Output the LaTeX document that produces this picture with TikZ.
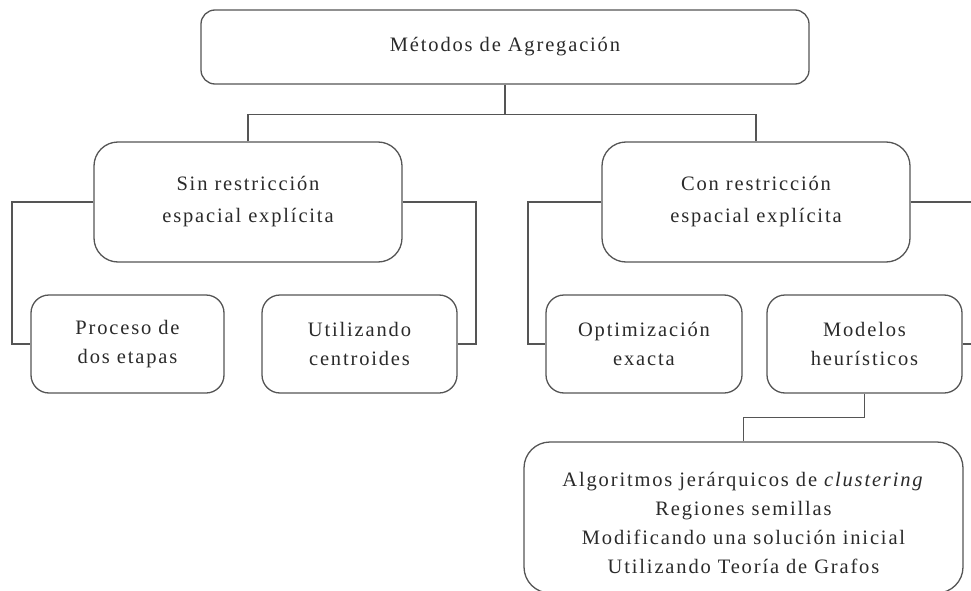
\documentclass[tikz,border=0pt]{standalone}
\usepackage{fontspec}
\setmainfont{Liberation Serif}[LetterSpace=9]
\definecolor{edge}{HTML}{555555}
\definecolor{ink}{HTML}{2A2A2A}
\begin{document}
\begin{tikzpicture}[x=1pt,y=-1pt,
  boxbase/.style={draw=edge,line width=1.3pt,fill=white,text=ink,align=center,inner sep=0pt,
    font=\fontsize{20.5}{29}\selectfont},
  topbox/.style={boxbase,rounded corners=14pt,minimum width=608pt,minimum height=74pt},
  midbox/.style={boxbase,rounded corners=24pt,minimum width=308pt,minimum height=120pt,
    font=\fontsize{20.5}{32}\selectfont},
  leafbox/.style={boxbase,rounded corners=18pt,minimum width=195pt,minimum height=98pt},
  bigbox/.style={boxbase,rounded corners=26pt,minimum width=439pt,minimum height=151pt,
    font=\fontsize{20.5}{29}\selectfont},
  link/.style={draw=edge,line width=1.3pt}]
\useasboundingbox (0,0) rectangle (971,591);
\fill[white] (0,0) rectangle (971,591);

\node[topbox] (top) at (505,47) {\raisebox{-3pt}{Métodos de Agregación}};
\node[midbox] (sin) at (248,202) {Sin restricción\\espacial explícita};
\node[midbox] (con) at (756,202) {Con restricción\\espacial explícita};
\node[leafbox,minimum width=193pt] (proc) at (127.5,344) {Proceso de\\dos etapas};
\node[leafbox] (util) at (359.5,344) {Utilizando\\centroides};
\node[leafbox,minimum width=196pt] (opt) at (644,344) {Optimización\\exacta};
\node[leafbox] (mod) at (864.5,344) {Modelos\\heurísticos};
\node[bigbox] (big) at (743.5,517.5) {\rule{0pt}{25pt}Algoritmos jerárquicos de \textit{clustering}\\Regiones semillas\\Modificando una solución inicial\\Utilizando Teoría de Grafos};

\coordinate (hub) at (505,115);
\coordinate (sl) at (12,202);
\coordinate (sr) at (476,202);
\coordinate (cl) at (528,202);
\coordinate (cr) at (971,202);
\coordinate (mr) at (971,344);

\draw[link] (top.south) -- (hub);
\draw[link] (sin.north) -- ++(0,-27) -| (con.north);
\draw[link] (sin.west) -- (sl) |- (proc.west);
\draw[link] (sin.east) -- (sr) |- (util.east);
\draw[link] (con.west) -- (cl) |- (opt.west);
\draw[link] (con.east) -- (cr);
\draw[link] (mod.east) -- (mr);
\draw[link] (mod.south) -- ++(0,24) -| (big.north);
\end{tikzpicture}
\end{document}
